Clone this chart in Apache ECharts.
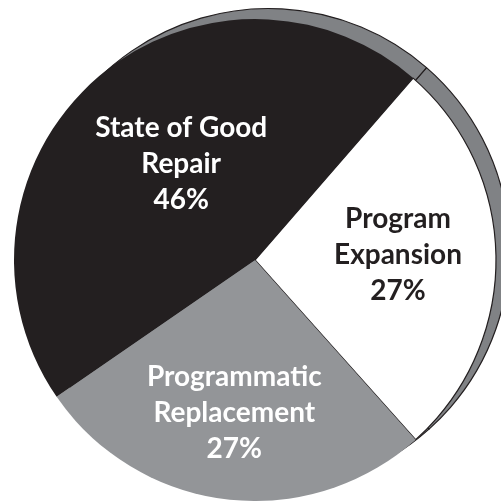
<!DOCTYPE html>
<html>
<head>
<meta charset="utf-8">
<script src="https://cdn.jsdelivr.net/npm/echarts@6/dist/echarts.min.js"></script>
<style>
  html, body { margin: 0; padding: 0; background: #ffffff; }
  #chart { width: 501px; height: 501px; }
</style>
</head>
<body>
<div id="chart"></div>
<script>
// Capital program shares, drawn clockwise from the upper right
const categories = ['Program\nExpansion', 'Programmatic\nReplacement', 'State of Good\nRepair'];
const shares = [27, 27, 46];

const sliceColors = ['#ffffff', '#939598', '#231f20'];
const labelColors = ['#231f20', '#ffffff', '#ffffff'];

const ink = '#231f20';
const rim = '#808285';
const pieCenter = [255, 260];
const pieRadius = 241;
const startAngle = 49;
// back face of the disc, shifted up and to the right to give it depth
const depthShift = [13.4, -10.5];

// label placement: which layer carries each label, a sideways padding nudge,
// and spacer lines above / below that move a label block down / up
const outerLabelRing = [0, 1, 0];
const labelPadding = [[0, 0, 0, 39], [0, 6, 0, 0], [0, 0, 0, 17]];
const spacerAbove = [0, 10, 0];
const spacerBelow = [8, 0, 8];

const spacerStyles = {};
[...spacerAbove, ...spacerBelow].forEach(h => {
  if (h > 0) spacerStyles['gap' + h] = { lineHeight: h, fontSize: 1 };
});

function labelText(params) {
  const i = params.dataIndex;
  let text = params.name + '\n' + params.value + '%';
  if (spacerAbove[i] > 0) text = '{gap' + spacerAbove[i] + '| }\n' + text;
  if (spacerBelow[i] > 0) text = text + '\n{gap' + spacerBelow[i] + '| }';
  return text;
}

const labelFont = {
  position: 'inside',
  formatter: labelText,
  fontFamily: 'Lato',
  fontWeight: 'bold',
  fontSize: 28,
  lineHeight: 36,
  align: 'center',
  rich: spacerStyles
};

const frontData = categories.map((name, i) => ({
  name: name,
  value: shares[i],
  itemStyle: {
    color: sliceColors[i],
    borderColor: ink,
    borderWidth: i === 0 ? 1.2 : 0
  },
  label: {
    show: outerLabelRing[i] === 0,
    color: labelColors[i],
    padding: labelPadding[i]
  }
}));

const ringLabelData = categories.map((name, i) => ({
  name: name,
  value: shares[i],
  label: {
    show: outerLabelRing[i] === 1,
    color: labelColors[i],
    padding: labelPadding[i]
  }
}));

const backData = categories.map((name, i) => ({ name: name, value: shares[i] }));

const chart = echarts.init(document.getElementById('chart'), null, { renderer: 'canvas' });
chart.setOption({
  animation: false,
  backgroundColor: '#ffffff',
  series: [
    {
      type: 'pie',
      silent: true,
      z: 1,
      center: [pieCenter[0] + depthShift[0], pieCenter[1] + depthShift[1]],
      radius: pieRadius,
      startAngle: startAngle,
      clockwise: true,
      label: { show: false },
      labelLine: { show: false },
      itemStyle: { color: rim, borderColor: ink, borderWidth: 1.2 },
      data: backData
    },
    {
      type: 'pie',
      silent: true,
      z: 2,
      center: pieCenter,
      radius: pieRadius,
      startAngle: startAngle,
      clockwise: true,
      avoidLabelOverlap: false,
      labelLine: { show: false },
      label: labelFont,
      data: frontData
    },
    {
      // transparent ring that only places labels further out
      type: 'pie',
      silent: true,
      z: 3,
      center: pieCenter,
      radius: [52, pieRadius],
      startAngle: startAngle,
      clockwise: true,
      avoidLabelOverlap: false,
      labelLine: { show: false },
      itemStyle: { color: 'rgba(0,0,0,0)', borderWidth: 0 },
      label: labelFont,
      data: ringLabelData
    }
  ]
});
</script>
</body>
</html>
